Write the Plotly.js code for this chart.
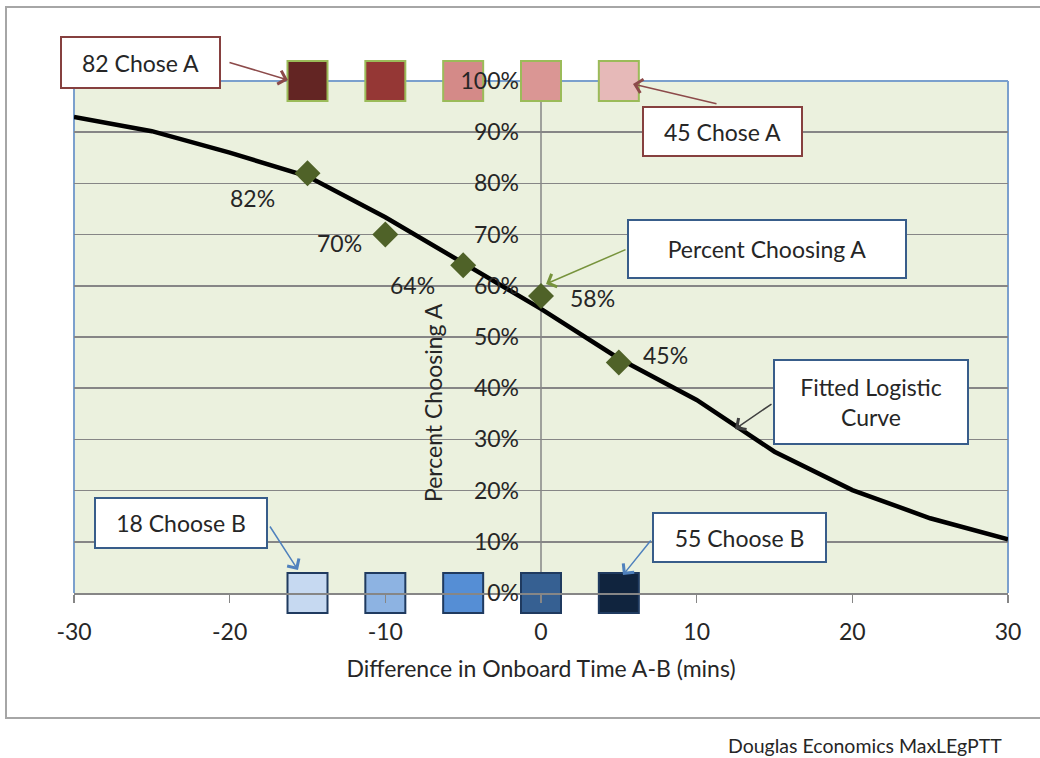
<!DOCTYPE html>
<html>
<head>
<meta charset="utf-8">
<script src="https://cdn.plot.ly/plotly-3.0.1.min.js"></script>
<style>html,body{margin:0;padding:0;background:#fff;}#chart{width:1040px;height:758px;}</style>
</head>
<body>
<div id="chart"></div>
<script>
// ---- data ----
const diffTime = [-15, -10, -5, 0, 5];
const pctChoosingA = [0.82, 0.70, 0.64, 0.58, 0.45];
const curveX = [-30, -25, -20, -15, -10, -5, 0, 5, 10, 15, 20, 25, 30];
const curveY = [0.930, 0.902, 0.860, 0.814, 0.734, 0.644, 0.555, 0.458, 0.377, 0.276, 0.201, 0.146, 0.105];
const topRow = [1, 1, 1, 1, 1];
const bottomRow = [0, 0, 0, 0, 0];
const xTicks = [-30, -20, -10, 0, 10, 20, 30];
const xTickLabels = ['-30', '-20', '-10', '0', '10', '20', '30'];
const yTicks = [0, 0.1, 0.2, 0.3, 0.4, 0.5, 0.6, 0.7, 0.8, 0.9, 1.0];
const boxTexts = ['82 Chose A', '45 Chose A', 'Percent Choosing A', 'Fitted Logistic<br>Curve', '18 Choose B', '55 Choose B'];
const xTitle = 'Difference in Onboard Time A-B (mins)';
const yTitle = 'Percent Choosing A';
const footer = 'Douglas Economics MaxLEgPTT';

// ---- styles ----
const redShades = ['#632523', '#953735', '#D48A88', '#DA9694', '#E6B9B8'];
const blueShades = ['#C6D9F1', '#8DB3E2', '#558ED5', '#366092', '#10243E'];
const FONT = 'Lato, "Open Sans", sans-serif';
const TXT = '#262626';
const FS = 23;
const GRID = '#868686';

// plot area geometry (pixels) for positioning decorations
const L = 74, R = 1008, T = 81, B = 593;
const px = x => (x - L) / (R - L);
const py = y => (B - y) / (B - T);

const traces = [
  {x: curveX, y: curveY, mode: 'lines', line: {color: '#000', width: 4.5}, hoverinfo: 'skip', cliponaxis: false},
  {x: diffTime, y: pctChoosingA, mode: 'markers', marker: {symbol: 'diamond', size: 20, color: '#4F6228'}, cliponaxis: false},
  {x: diffTime, y: topRow, mode: 'markers', marker: {symbol: 'square', size: 40, color: redShades, line: {color: '#9BBB59', width: 2}}, cliponaxis: false},
  {x: diffTime, y: bottomRow, mode: 'markers', marker: {symbol: 'square', size: 40, color: blueShades, line: {color: '#1F3A5F', width: 2}}, cliponaxis: false}
];

const labelShift = [[-55, -25], [-46, -8], [-51, -20], [51, -2], [47, 8]];
const annotations = [];
diffTime.forEach((x, i) => {
  annotations.push({x: x, y: pctChoosingA[i], xref: 'x', yref: 'y', text: Math.round(pctChoosingA[i] * 100) + '%',
    showarrow: false, xshift: labelShift[i][0], yshift: labelShift[i][1], font: {family: FONT, size: FS, color: TXT}});
});

// boxes: [cx, cy, w, h, border]
const boxes = [
  [140.5, 62.5, 161, 53, '#86403F'],
  [722.5, 131.5, 161, 51, '#86403F'],
  [767, 249, 280, 60, '#385D8A'],
  [871, 402, 196, 86, '#385D8A'],
  [181, 523, 174, 52, '#385D8A'],
  [739.5, 537.5, 175, 51, '#385D8A']
];
boxes.forEach((b, i) => {
  annotations.push({xref: 'paper', yref: 'paper', x: px(b[0]), y: py(b[1]), xanchor: 'center', yanchor: 'middle',
    text: boxTexts[i], showarrow: false, width: b[2] - 4, height: b[3] - 4, borderpad: 0,
    bgcolor: '#fff', bordercolor: b[4], borderwidth: 2, align: 'center', valign: 'middle',
    font: {family: FONT, size: FS, color: TXT}});
});

// arrows: [tailX, tailY, headX, headY, color]
const arrows = [
  [228, 62, 288, 80, '#8C4A4A'],
  [718, 104, 633, 84, '#8C4A4A'],
  [627, 249, 546, 284, '#77933C'],
  [773, 403, 735, 429, '#404040'],
  [269, 525, 298, 570, '#4F81BD'],
  [652, 539, 623, 575, '#4F81BD']
];
arrows.forEach(a => {
  annotations.push({xref: 'paper', yref: 'paper', x: px(a[2]), y: py(a[3]), ax: a[0] - a[2], ay: a[1] - a[3],
    text: '', showarrow: true, arrowhead: 4, arrowsize: 1.8, arrowwidth: 1.5, arrowcolor: a[4]});
});

// y-axis title & footer
annotations.push({xref: 'paper', yref: 'paper', x: px(433), y: py(403), text: yTitle, textangle: -90, showarrow: false,
  xanchor: 'center', yanchor: 'middle', font: {family: FONT, size: FS, color: TXT}});
annotations.push({xref: 'paper', yref: 'paper', x: px(1004), y: py(745), text: footer, showarrow: false,
  xanchor: 'right', yanchor: 'middle', font: {family: FONT, size: 19.5, color: TXT}});

const shapes = [
  {type: 'rect', xref: 'paper', yref: 'paper', x0: px(6), x1: px(1046), y0: py(718), y1: py(7), line: {color: '#A6A6A6', width: 2}, layer: 'below'},
  // vertical value axis line at x = 0 (under the markers)
  {type: 'line', xref: 'x', yref: 'paper', x0: 0, x1: 0, y0: 0, y1: 1, line: {color: GRID, width: 1.5}, layer: 'below'},
  {type: 'line', xref: 'paper', yref: 'paper', x0: 0, x1: 0, y0: 0, y1: 1, line: {color: '#7BA0CD', width: 2}, layer: 'below'},
  {type: 'line', xref: 'paper', yref: 'paper', x0: 1, x1: 1, y0: 0, y1: 1, line: {color: '#7BA0CD', width: 2}, layer: 'below'},
  {type: 'line', xref: 'paper', yref: 'paper', x0: 0, x1: 1, y0: 1, y1: 1, line: {color: '#7BA0CD', width: 2}, layer: 'below'}
];

const layout = {
  width: 1040, height: 758,
  margin: {l: L, r: 1040 - R, t: T, b: 758 - B},
  paper_bgcolor: '#fff', plot_bgcolor: '#EBF1DE',
  showlegend: false,
  font: {family: FONT, size: FS, color: TXT},
  xaxis: {range: [-30, 30], tickvals: xTicks, ticktext: xTickLabels, ticks: 'outside', ticklen: 8, tickwidth: 1.5, tickcolor: GRID,
    showline: true, linecolor: GRID, linewidth: 1.5, showgrid: false, zeroline: false,
    tickfont: {family: FONT, size: FS, color: TXT}, ticklabelstandoff: 10,
    title: {text: xTitle, font: {family: FONT, size: FS, color: TXT}, standoff: 17}},
  yaxis: {range: [0, 1], tickvals: yTicks, tickformat: '.0%', anchor: 'free', position: 0.5, side: 'left',
    showgrid: true, gridcolor: GRID, gridwidth: 1.5, showline: false,
    zeroline: false, ticks: '', tickfont: {family: FONT, size: FS, color: TXT}, ticklabelstandoff: 22},
  annotations: annotations,
  shapes: shapes
};

Plotly.newPlot('chart', traces, layout, {displayModeBar: false, staticPlot: true});
</script>
</body>
</html>
